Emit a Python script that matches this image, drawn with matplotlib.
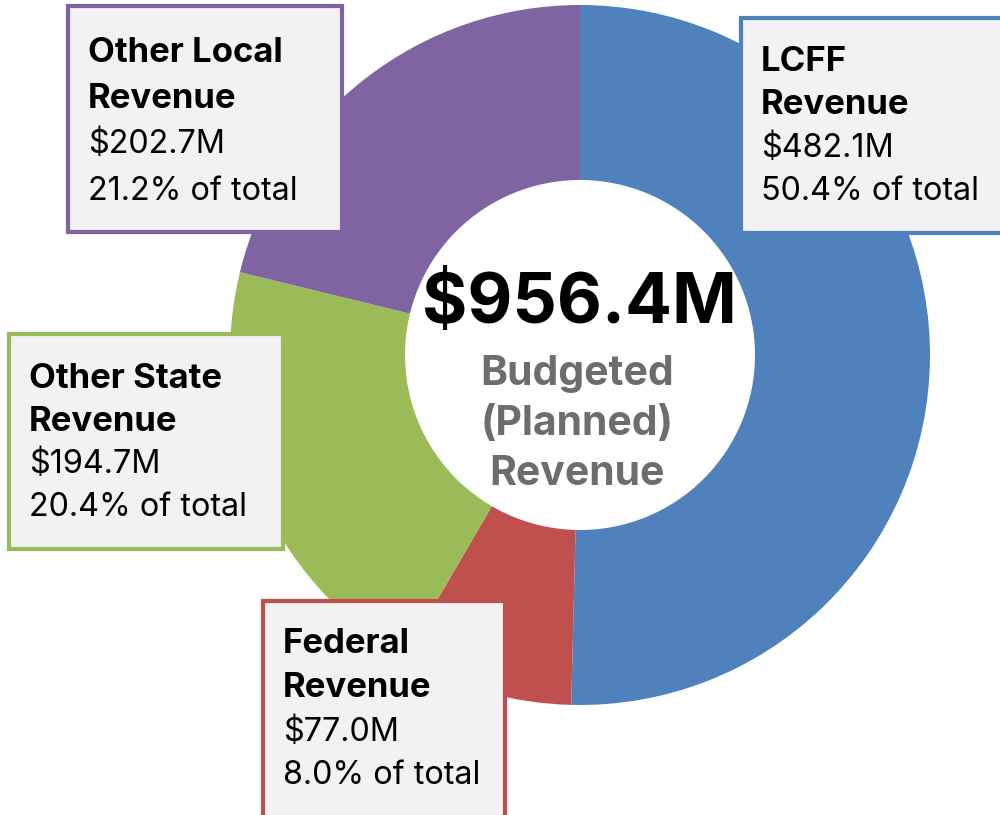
import matplotlib
matplotlib.use("Agg")
import matplotlib.pyplot as plt
from matplotlib.patches import Rectangle, Circle

categories = ["LCFF Revenue", "Federal Revenue", "Other State Revenue", "Other Local Revenue"]
title_lines = [["LCFF", "Revenue"], ["Federal", "Revenue"], ["Other State", "Revenue"], ["Other Local", "Revenue"]]
amounts = [482.1, 77.0, 194.7, 202.7]
percents = [50.4, 8.0, 20.4, 21.2]
total = 956.4
colors = ["#4F81BD", "#C0504D", "#9BBB59", "#8064A2"]

W, H = 1000, 815
fig = plt.figure(figsize=(W / 100, H / 100), dpi=100)
ax = fig.add_axes([0, 0, 1, 1])

def Y(py):
    return H - py

FONT = "Inter"
cx, cy, R = 580, Y(355), 350
ax.pie(percents, colors=colors, startangle=90, counterclock=False,
       center=(cx, cy), radius=R, frame=True,
       wedgeprops=dict(linewidth=0))
ax.set_xlim(0, W)
ax.set_ylim(0, H)
ax.set_aspect("equal")
ax.axis("off")
ax.add_patch(Circle((cx, cy), 175, facecolor="white", edgecolor="none", zorder=3))

ax.text(cx - 1, Y(305), f"${total:.1f}M", ha="center", va="center", fontsize=50,
        fontweight="bold", family=FONT, color="black", zorder=5)
for i, line in enumerate(["Budgeted", "(Planned)", "Revenue"]):
    ax.text(cx - 3, Y(374 + 50 * i), line, ha="center", va="center", fontsize=29.5,
            fontweight="bold", family=FONT, color="#6d6d6d", zorder=5)

# box layouts (left, top, right, bottom) in pixel coords
boxes = [(741, 18, 1010, 233), (263, 601, 505, 825), (9, 334, 283, 549), (68, 6, 342, 232)]
first = [44, 43, 45, 47]
step = [43, 44, 43, 46]
for k in range(4):
    l, t, r, b = boxes[k]
    ax.add_patch(Rectangle((l, Y(b)), r - l, b - t, facecolor="#F2F2F2",
                           edgecolor=colors[k], linewidth=3, zorder=6, clip_on=False))
    lines = title_lines[k] + [f"${amounts[k]:.1f}M", f"{percents[k]:.1f}% of total"]
    for j, txt in enumerate(lines):
        ax.text(l + 20, Y(t + first[k] + step[k] * j), txt, ha="left", va="center",
                fontsize=25 if j < 2 else 23.3, fontweight="bold" if j < 2 else "normal",
                family=FONT, color="black", zorder=7)

fig.savefig("out.png", dpi=100)
